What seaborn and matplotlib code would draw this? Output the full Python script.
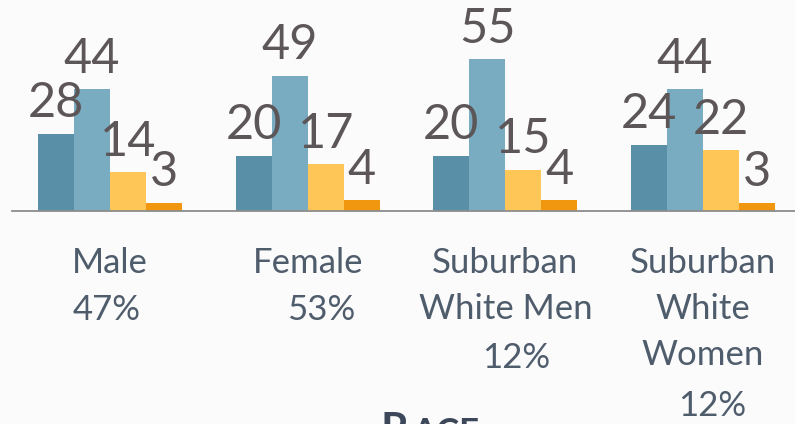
import pandas as pd
import seaborn as sns
import matplotlib.pyplot as plt
import matplotlib.transforms as mtrans

sns.set_style("white")
plt.rcParams["font.family"] = ["Lato", "DejaVu Sans"]

################################ data

GROUPS = ["Male", "Female", "Suburban\nWhite Men", "Suburban\nWhite\nWomen"]
SHARES = ["47%", "53%", "12%", "12%"]
SERIES = ["Series 1", "Series 2", "Series 3", "Series 4"]
SERIES_1 = [28, 20, 20, 24]
SERIES_2 = [44, 49, 55, 44]
SERIES_3 = [14, 17, 15, 22]
SERIES_4 = [3, 4, 4, 3]
TITLE = "Race"

df = pd.DataFrame({
    "group": GROUPS * 4,
    "series": [s for s in SERIES for _ in GROUPS],
    "value": SERIES_1 + SERIES_2 + SERIES_3 + SERIES_4,
})

################################ style

COLORS = ["#5a8fa8", "#7aacc1", "#fec656", "#f0960f"]
NUM_COLOR = "#5d5659"
CAT_COLOR = "#4f5c6c"
TITLE_COLOR = "#3c4859"
BG_COLOR = "#fbfbfb"

W, H = 795, 424
DPI = 100

# per-label nudges (px) for the percentage line, and its top (px from top)
SHARE_DX = [-3, 13, 11, 9]
NAME_TOP = 247
LINE_PX = 47.5

################################ draw

fig = plt.figure(figsize=(W / DPI, H / DPI), dpi=DPI, facecolor=BG_COLOR)
base_px = 211
ymax = 70
px_per_unit = 2.765
ax = fig.add_axes([12 / W, (H - base_px) / H, 1 - 12 / W, ymax * px_per_unit / H])
ax.set_facecolor("none")

sns.barplot(ax=ax, data=df, x="group", y="value", hue="series",
            palette=COLORS, width=0.729, gap=0, saturation=1,
            legend=False, edgecolor="none")

ax.set_xlim(-0.496, 3.465)
ax.set_ylim(0, ymax)

for cont in ax.containers:
    ax.bar_label(cont, padding=6, fontsize=35, color=NUM_COLOR, clip_on=False)

sns.despine(ax=ax, left=True, top=True, right=True)
ax.spines["bottom"].set(color="#8c8c8c", linewidth=1.3)
ax.tick_params(bottom=False, left=False, labelbottom=False, labelleft=False)
ax.set_xlabel("")
ax.set_ylabel("")

# category labels under the axis
trans = mtrans.blended_transform_factory(ax.transData, fig.transFigure)
for i, (name, share) in enumerate(zip(GROUPS, SHARES)):
    n_lines = name.count("\n") + 1
    ax.text(i, 1 - NAME_TOP / H, name, transform=trans, ha="center", va="top",
            fontsize=25, color=CAT_COLOR, linespacing=1.54)
    off = mtrans.offset_copy(trans, fig=fig, x=SHARE_DX[i] * 72 / DPI, y=0, units="points")
    ax.text(i, 1 - (NAME_TOP + n_lines * LINE_PX) / H, share, transform=off,
            ha="center", va="top", fontsize=25, color=CAT_COLOR)

# small-caps title, cut by the bottom edge as in the source slide
fig.text(381 / W, 1 - 411 / H, TITLE[0].upper(), ha="left", va="top",
         fontsize=31, color=TITLE_COLOR, fontweight="bold")
fig.text(412 / W, 1 - 417 / H, TITLE[1:].upper(), ha="left", va="top",
         fontsize=25, color=TITLE_COLOR, fontweight="bold")

fig.savefig("out.png", dpi=DPI, facecolor=BG_COLOR)
plt.close(fig)
